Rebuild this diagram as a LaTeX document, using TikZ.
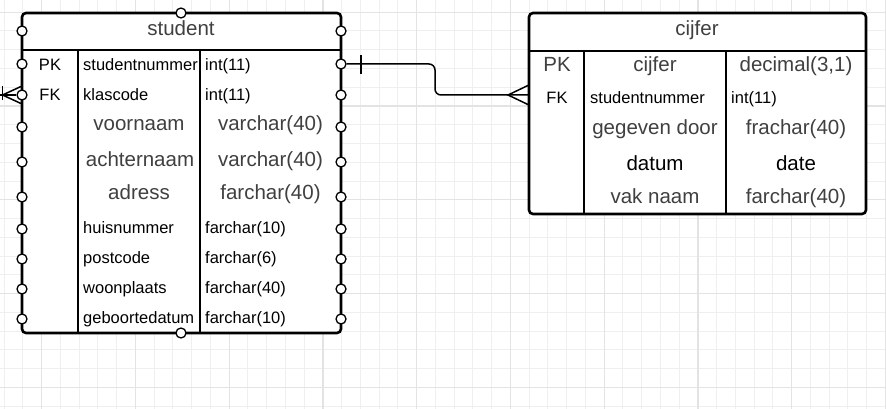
\documentclass[tikz,border=0pt]{standalone}
\usepackage{fontspec}
\setmainfont{Liberation Sans}
\usetikzlibrary{calc}

\definecolor{gridminor}{HTML}{EFEFEF}
\definecolor{gridmajor}{HTML}{E3E3E3}
\definecolor{txtgray}{HTML}{404040}

\begin{document}
\begin{tikzpicture}[x=1pt, y=-1pt,
    tbl/.style={line width=2.6pt, rounded corners=4pt, fill=white},
    sep/.style={line width=2.2pt},
    small/.style={font=\fontsize{16.5}{18}\selectfont, text=black, inner sep=0pt},
    large/.style={font=\fontsize{20.5}{24}\selectfont, text=txtgray, inner sep=0pt},
    port/.style={circle, draw, fill=white, line width=1.3pt, minimum size=10pt, inner sep=0pt},
    conn/.style={line width=1.5pt}]
  \useasboundingbox (0,0) rectangle (886,409);

  % Background grid
  \fill[white] (0,0) rectangle (886,409);
  \foreach \gx in {4.2,22.95,...,886} \draw[gridminor, line width=1pt] (\gx,0) -- (\gx,409);
  \foreach \gy in {12.25,31,...,409} \draw[gridminor, line width=1pt] (0,\gy) -- (886,\gy);
  \foreach \gx in {41.7,135.45,...,887} \draw[gridmajor, line width=1.2pt] (\gx,0) -- (\gx,409);
  \foreach \gy in {12.25,106,...,409} \draw[gridmajor, line width=1.2pt] (0,\gy) -- (886,\gy);

  % Table: student
  \begin{scope}
    \draw[tbl] (22,13) rectangle (341,333);
    \draw[sep] (22,50) -- (341,50);
    \draw[sep] (78,50) -- (78,333);
    \draw[sep] (200,50) -- (200,333);
    \node[large, anchor=base] (stu-title) at (181,36) {student};
    \node[small, anchor=base] (stu-pk) at (50,71) {PK};
    \node[small, anchor=base west] (stu-nr) at (83,71) {studentnummer};
    \node[small, anchor=base west] (stu-nr-t) at (205,71) {int(11)};
    \node[small, anchor=base] (stu-fk) at (50,100.5) {FK};
    \node[small, anchor=base west] (stu-kl) at (83,100.5) {klascode};
    \node[small, anchor=base west] (stu-kl-t) at (205,100.5) {int(11)};
    \node[large, anchor=base] (stu-vn) at (139,131) {voornaam};
    \node[large, anchor=base] (stu-vn-t) at (270.5,131) {varchar(40)};
    \node[large, anchor=base] (stu-an) at (140,166) {achternaam};
    \node[large, anchor=base] (stu-an-t) at (270.5,166) {varchar(40)};
    \node[large, anchor=base] (stu-ad) at (139,199.5) {adress};
    \node[large, anchor=base] (stu-ad-t) at (270.5,199.5) {farchar(40)};
    \node[small, anchor=base west] (stu-hn) at (83,233) {huisnummer};
    \node[small, anchor=base west] (stu-hn-t) at (205,233) {farchar(10)};
    \node[small, anchor=base west] (stu-pc) at (83,263) {postcode};
    \node[small, anchor=base west] (stu-pc-t) at (205,263) {farchar(6)};
    \node[small, anchor=base west] (stu-wp) at (83,293) {woonplaats};
    \node[small, anchor=base west] (stu-wp-t) at (205,293) {farchar(40)};
    \node[small, anchor=base west] (stu-gd) at (83,323) {geboortedatum};
    \node[small, anchor=base west] (stu-gd-t) at (205,323) {farchar(10)};
    % connection points
    \foreach \py [count=\i] in {31,64,95,127,162,197,229,259,289,319} {
      \node[port] (sl\i) at (22,\py) {};
      \node[port] (sr\i) at (341,\py) {};
    }
    \node[port] (st) at (181,13) {};
    \node[port] (sb) at (181,333) {};
  \end{scope}

  % Table: cijfer
  \begin{scope}
    \draw[tbl] (529,13) rectangle (866,214);
    \draw[sep] (529,51) -- (866,51);
    \draw[sep] (584,51) -- (584,214);
    \draw[sep] (726,51) -- (726,214);
    \node[large, anchor=base] (cij-title) at (697,36) {cijfer};
    \node[large, anchor=base] (cij-pk) at (557,72) {PK};
    \node[large, anchor=base] (cij-cf) at (655,72) {cijfer};
    \node[large, anchor=base] (cij-cf-t) at (796,72) {decimal(3,1)};
    \node[small, anchor=base] (cij-fk) at (557,103.5) {FK};
    \node[small, anchor=base west] (cij-nr) at (590,103.5) {studentnummer};
    \node[small, anchor=base west] (cij-nr-t) at (731,103.5) {int(11)};
    \node[large, anchor=base] (cij-gd) at (655,135) {gegeven door};
    \node[large, anchor=base] (cij-gd-t) at (796,135) {frachar(40)};
    \node[large, anchor=base, text=black] (cij-dt) at (655,170) {datum};
    \node[large, anchor=base, text=black] (cij-dt-t) at (796,170) {date};
    \node[large, anchor=base] (cij-vk) at (655,203) {vak naam};
    \node[large, anchor=base] (cij-vk-t) at (796,203) {farchar(40)};
  \end{scope}

  % Relation student -- cijfer
  \coordinate (cij-in) at (529,95);
  \coordinate (bend) at (435,95);
  \draw[conn, rounded corners=6pt] (sr2.east) -| (bend) -- (cij-in);
  \draw[conn] (361,55) -- (361,74);
  \draw[conn] (529,85) -- (508,95) -- (529,105);

  % Relation into klascode
  \coordinate (ext) at (0,95);
  \draw[conn] (ext) -- (sl3.west);
  \draw[conn] (21,86.5) -- (2.5,95) -- (21,103.5);
  \draw[conn] (2.5,86) -- (2.5,100);
\end{tikzpicture}
\end{document}
